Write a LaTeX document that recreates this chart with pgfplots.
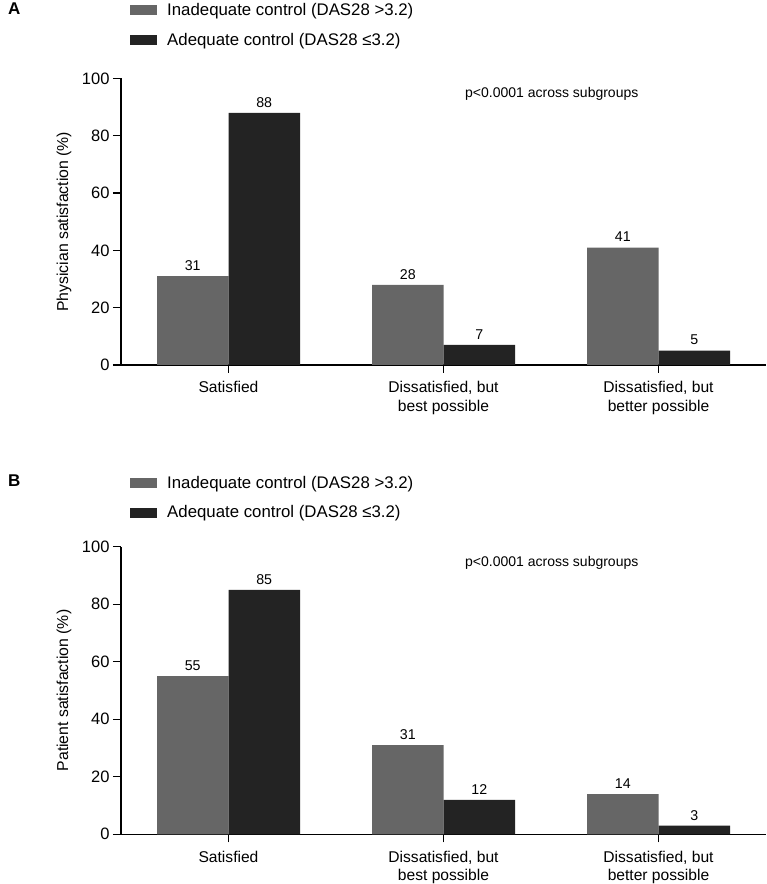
\documentclass[border=0pt]{standalone}
\usepackage{pgfplots}
\pgfplotsset{compat=1.18}
\usepackage{fontspec}
\setmainfont{Liberation Sans}
\definecolor{gA}{HTML}{666666}
\definecolor{gB}{HTML}{232323}
\newcommand{\fs}[1]{\fontsize{#1pt}{#1pt}\selectfont}
\newcommand{\catfont}{\fontsize{15.6pt}{18.5pt}\selectfont}
\pgfplotsset{
  mystyle/.style={
    scale only axis, width=645pt,
    xmin=-0.5, xmax=2.5, ymin=0, ymax=100,
    axis x line*=bottom, axis y line*=left,
    axis line style={-, line width=1.2pt, black},
    tick style={line width=1.2pt, black},
    major tick length=8pt, tick align=outside,
    xtick={0,1,2},
    xticklabels={Satisfied, {Dissatisfied, but\\best possible}, {Dissatisfied, but\\better possible}},
    xticklabel style={align=center, font=\catfont, yshift=-5pt},
    ytick={0,20,40,60,80,100},
    yticklabel style={font=\fs{16.5}},
    /pgf/number format/assume math mode=true,
    ybar, bar width=71.5pt,
    every axis y label/.style={at={(axis description cs:0,0.5)}, xshift=-57pt, rotate=90, anchor=center, font=\fs{15.8}},
    nodes near coords,
    every node near coord/.append style={font=\fs{14.2}, black, yshift=2pt},
    legend cell align=left,
    legend image code/.code={\fill[##1] (0pt,-5pt) rectangle (27pt,5pt); \path (35pt,0pt);},
    legend style={draw=none, fill=none, font=\fs{16.8}, anchor=north west,
      row sep=12pt, inner sep=0pt},
  }
}
\begin{document}
\begin{tikzpicture}
\useasboundingbox (0,0) rectangle (767pt,884pt);
% Panel A
\begin{axis}[mystyle, at={(121pt,519pt)}, anchor=south west, height=286.5pt,
  ylabel={Physician satisfaction (\%)},
  legend style={at={(axis description cs:0.014,1.2695)}}]
\addplot[fill=gA, draw=none, bar shift=-35.75pt] coordinates {(0,31) (1,28) (2,41)};
\addplot[fill=gB, draw=none, bar shift=35.75pt] coordinates {(0,88) (1,7) (2,5)};
\legend{Inadequate control (DAS28 >3.2), Adequate control (DAS28 ≤3.2)}
\node[anchor=base west, font=\fs{14}, inner sep=0pt] at (axis cs:1.1,93.3) {p<0.0001 across subgroups};
\end{axis}
% Panel B
\begin{axis}[mystyle, at={(121pt,49.7pt)}, anchor=south west, height=287.6pt,
  ylabel={Patient satisfaction (\%)},
  legend style={at={(axis description cs:0.014,1.2535)}}]
\addplot[fill=gA, draw=none, bar shift=-35.75pt] coordinates {(0,55) (1,31) (2,14)};
\addplot[fill=gB, draw=none, bar shift=35.75pt] coordinates {(0,85) (1,12) (2,3)};
\legend{Inadequate control (DAS28 >3.2), Adequate control (DAS28 ≤3.2)}
\node[anchor=base west, font=\fs{14}, inner sep=0pt] at (axis cs:1.1,93.0) {p<0.0001 across subgroups};
\end{axis}
\node[anchor=west, font=\bfseries\fs{17}, inner sep=0pt] at (8pt,875pt) {A};
\node[anchor=west, font=\bfseries\fs{17}, inner sep=0pt] at (8pt,403pt) {B};
\end{tikzpicture}
\end{document}
